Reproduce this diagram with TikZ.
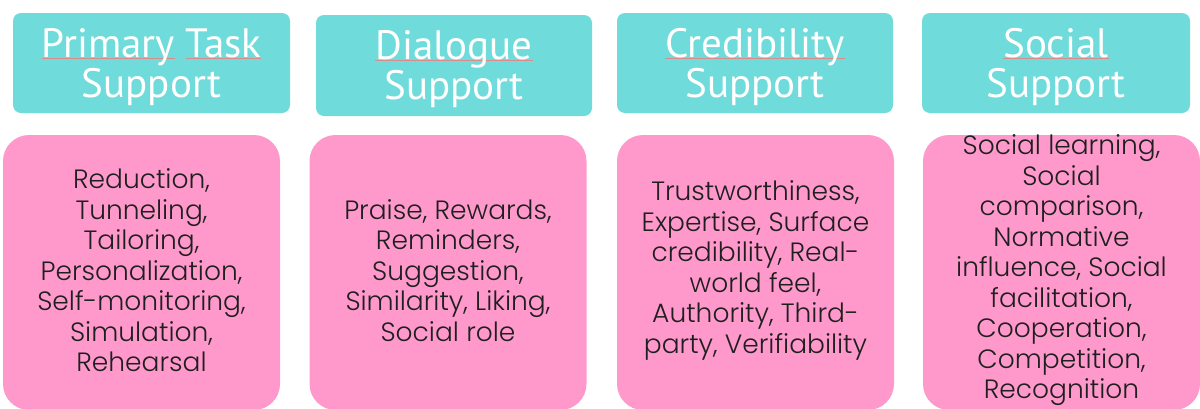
\documentclass[tikz,border=0pt]{standalone}
\usepackage{fontspec}
\setmainfont{Poppins}[UprightFont=* Light]
\newfontfamily\headfont{PT Sans}
\definecolor{headcol}{HTML}{70DBDB}
\definecolor{bodycol}{HTML}{FF99CC}
\definecolor{squigcol}{HTML}{D98C8C}
\newcommand\squig[1]{\setbox0\hbox{#1}\rlap{\color{squigcol}\rule[-1.5pt]{\wd0}{1.2pt}}\box0\relax}
\tikzset{
  headbox/.style={fill=headcol, rounded corners=8pt, inner sep=0, outer sep=0},
  bodybox/.style={fill=bodycol, rounded corners=26pt, inner sep=0, outer sep=0},
  headtext/.style={text=white, align=center, inner sep=0,
    font=\headfont\fontsize{41}{40}\selectfont},
  bodytext/.style={text=black!88, align=center, inner sep=0,
    font=\fontsize{26.5}{30.5}\selectfont},
}
\begin{document}
\begin{tikzpicture}[x=1pt,y=-1pt]
\useasboundingbox (0,0) rectangle (1200,408);
\begin{scope}
\clip (0,0) rectangle (1200,408);
% header boxes
\node[headbox, minimum width=277pt, minimum height=100pt] (hdA) at (151.5,63) {};
\node[headbox, minimum width=276pt, minimum height=101pt] (hdB) at (454,65.5) {};
\node[headbox, minimum width=276pt, minimum height=100pt] (hdC) at (755,63) {};
\node[headbox, minimum width=268pt, minimum height=100pt] (hdD) at (1056,63) {};
\node[headtext, yshift=-4pt] (htA) at (hdA.center) {\squig{Primary} \squig{Task}\\Support};
\node[headtext, yshift=-4pt] (htB) at (hdB.center) {\squig{Dialogue}\\Support};
\node[headtext, yshift=-4pt] (htC) at (hdC.center) {\squig{Credibility}\\Support};
\node[headtext, yshift=-4pt] (htD) at (hdD.center) {\squig{Social}\\Support};
% body boxes
\node[bodybox, minimum width=277pt, minimum height=275pt] (bdA) at (141.5,272.5) {};
\node[bodybox, minimum width=277pt, minimum height=275pt] (bdB) at (448,272.5) {};
\node[bodybox, minimum width=277pt, minimum height=275pt] (bdC) at (755.5,272.5) {};
\node[bodybox, minimum width=277pt, minimum height=275pt] (bdD) at (1061.5,272.5) {};
\node[bodytext, yshift=2pt] (btA) at (bdA.center) {Reduction,\\Tunneling,\\Tailoring,\\Personalization,\\Self-monitoring,\\Simulation,\\Rehearsal};
\node[bodytext, yshift=2pt] (btB) at (bdB.center) {Praise, Rewards,\\Reminders,\\Suggestion,\\Similarity, Liking,\\Social role};
\node[bodytext, yshift=2pt] (btC) at (bdC.center) {Trustworthiness,\\Expertise, Surface\\credibility, Real-\\world feel,\\Authority, Third-\\party, Verifiability};
\node[bodytext, yshift=2pt] (btD) at (bdD.center) {Social learning,\\Social\\comparison,\\Normative\\influence, Social\\facilitation,\\Cooperation,\\Competition,\\Recognition};
\end{scope}
\end{tikzpicture}
\end{document}
